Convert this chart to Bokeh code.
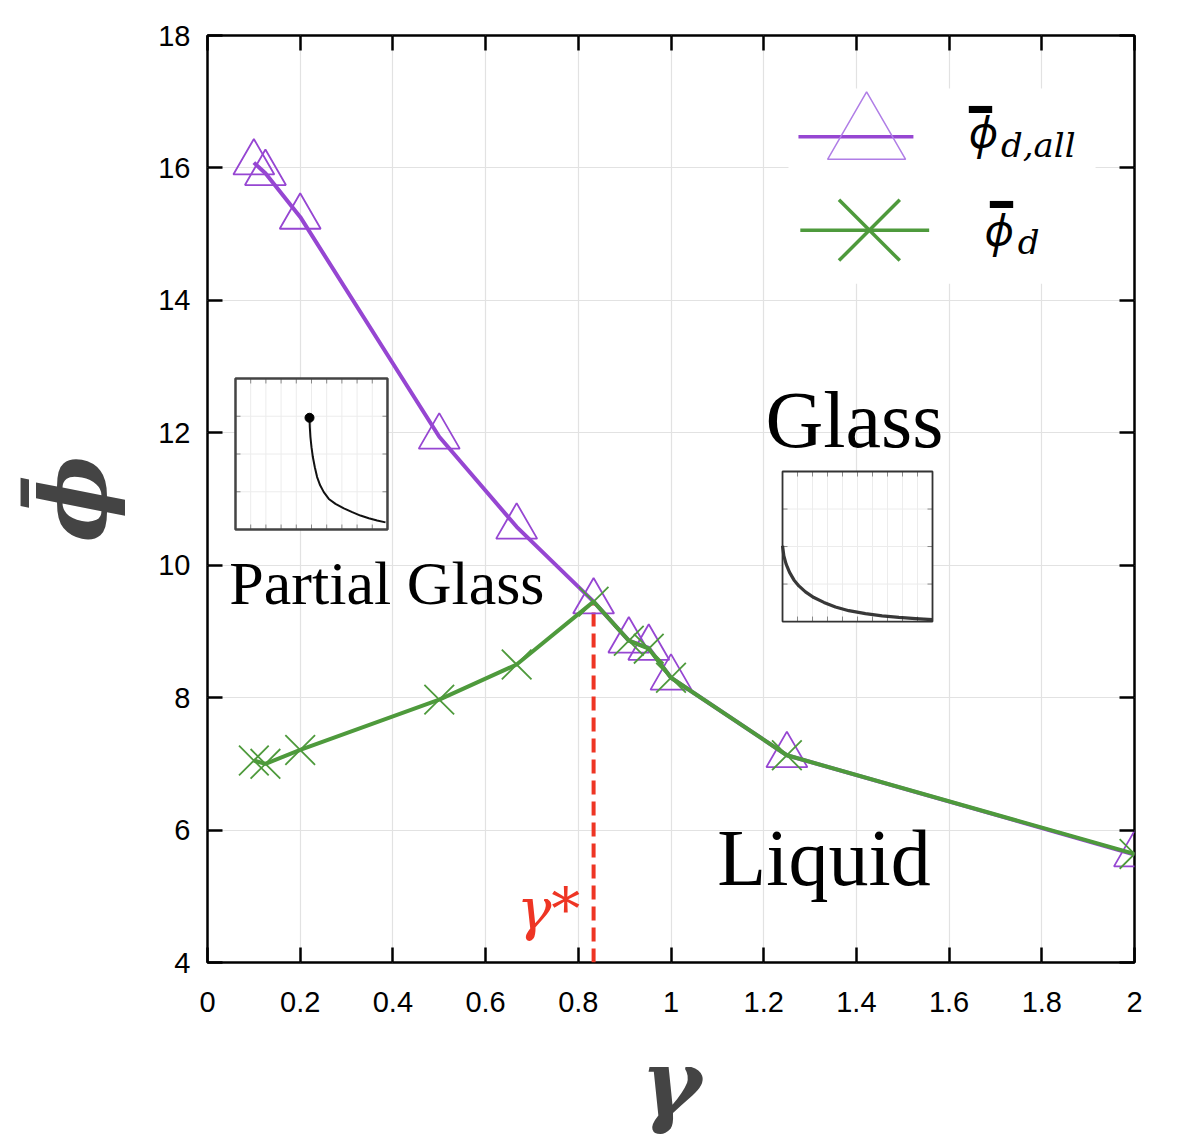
import numpy as np
from bokeh.plotting import figure
from bokeh.models import (Range1d, FixedTicker, LinearAxis, BoxAnnotation, Label,
                          CustomJSTickFormatter)
from bokeh.embed import file_html
from bokeh.resources import INLINE

# ---------------- data ----------------
GAMMA = [0.1, 0.125, 0.2, 0.5, 0.667, 0.833, 0.909, 0.952, 1.0, 1.25, 2.0]
PHI_D_ALL = [16.08, 15.92, 15.26, 11.94, 10.58, 9.45, 8.86, 8.75, 8.30, 7.13, 5.63]
PHI_D = [7.05, 7.00, 7.21, 7.97, 8.50, 9.45, 8.86, 8.74, 8.30, 7.13, 5.64]
GAMMA_STAR = 0.833
PEAK_INDEX = 5

X_TICKS = [0, 0.2, 0.4, 0.6, 0.8, 1.0, 1.2, 1.4, 1.6, 1.8, 2.0]
X_TICK_LABELS = ["0", "0.2", "0.4", "0.6", "0.8", "1", "1.2", "1.4", "1.6", "1.8", "2"]
Y_TICKS = [4, 6, 8, 10, 12, 14, 16, 18]
Y_TICK_LABELS = ["4", "6", "8", "10", "12", "14", "16", "18"]

# inset curves, in the insets' own axes (x 0..10, y 0..4)
INSET1_U = [4.87, 4.89, 4.93, 5.00, 5.09, 5.22, 5.37, 5.57, 5.81, 6.14, 6.58, 7.13, 7.68, 8.22, 8.77, 9.32, 9.87]
INSET1_V = [2.96, 2.71, 2.45, 2.18, 1.92, 1.65, 1.39, 1.17, 0.99, 0.81, 0.68, 0.56, 0.46, 0.37, 0.30, 0.24, 0.19]
INSET2_U = [0.0, 0.09, 0.24, 0.47, 0.76, 1.09, 1.53, 2.09, 2.76, 3.53, 4.42, 5.53, 6.64, 7.76, 8.87, 9.98]
INSET2_V = [2.02, 1.75, 1.53, 1.31, 1.11, 0.95, 0.79, 0.64, 0.51, 0.39, 0.29, 0.21, 0.15, 0.11, 0.08, 0.05]
INSET_GRID_U = [1, 2, 3, 4, 5, 6, 7, 8, 9]
INSET_GRID_V = [1, 2, 3]

# ---------------- layout / style constants ----------------
PURPLE = "#9646d2"
GREEN = "#4e9a3c"
RED = "#ee3524"

INSET1 = dict(left=0.0604, right=0.3883, bottom=10.539, top=12.82)
INSET2 = dict(left=1.2406, right=1.5642, bottom=9.149, top=11.415)
LEGEND_BOX = dict(left=1.2535, right=1.916, bottom=14.25, top=17.20)
LEG_LINE_X = [(1.275, 1.523), (1.279, 1.557)]
LEG_ROW_Y = [16.47, 15.06]
LEG_MARK_X = [1.422, 1.428]

PHI = "\u03d5"
BAR = "\u00af"

p = figure(width=1168, height=1144, x_range=Range1d(0, 2), y_range=Range1d(4, 18),
           output_backend="svg", toolbar_location=None,
           min_border_left=207, min_border_right=34, min_border_top=35, min_border_bottom=182)
p.background_fill_color = "white"
p.border_fill_color = "white"
p.outline_line_color = "black"
p.outline_line_width = 2.5

p.xaxis.ticker = FixedTicker(ticks=X_TICKS)
p.xaxis.major_label_overrides = {t: l for t, l in zip(X_TICKS, X_TICK_LABELS)}
p.yaxis.ticker = FixedTicker(ticks=Y_TICKS)
p.yaxis.major_label_overrides = {t: l for t, l in zip(Y_TICKS, Y_TICK_LABELS)}

for ax in [p.xaxis[0], p.yaxis[0]]:
    ax.axis_line_color = None
    ax.major_tick_in = 15
    ax.major_tick_out = 0
    ax.major_tick_line_width = 2.5
    ax.minor_tick_line_color = None
    ax.major_label_text_font = "Liberation Sans"
    ax.major_label_text_font_size = "29px"
    ax.major_label_text_color = "black"

p.xaxis.major_label_standoff = 29
p.yaxis.major_label_standoff = 17

p.xaxis.axis_label = "γ"
p.xaxis.axis_label_text_font = "DejaVu Serif"
p.xaxis.axis_label_text_font_style = "bold italic"
p.xaxis.axis_label_text_font_size = "92px"
p.xaxis.axis_label_standoff = 14

# phi with its bar: the bar sits on a tightly spaced first line
p.yaxis.axis_label = BAR + "\n" + PHI
p.yaxis.axis_label_text_font = "DejaVu Serif"
p.yaxis.axis_label_text_font_style = "bold italic"
p.yaxis.axis_label_text_font_size = "92px"
p.yaxis.axis_label_text_line_height = 0.15
p.yaxis.axis_label_standoff = 27

blank = CustomJSTickFormatter(code="return ''")
top_ax = LinearAxis(ticker=FixedTicker(ticks=X_TICKS), formatter=blank, axis_line_color=None,
                    major_tick_in=15, major_tick_out=0, major_tick_line_width=2.5,
                    minor_tick_line_color=None, major_label_standoff=0)
right_ax = LinearAxis(ticker=FixedTicker(ticks=Y_TICKS), formatter=blank, axis_line_color=None,
                      major_tick_in=15, major_tick_out=0, major_tick_line_width=2.5,
                      minor_tick_line_color=None, major_label_standoff=0)
p.add_layout(top_ax, "above")
p.add_layout(right_ax, "right")

p.xgrid.ticker = FixedTicker(ticks=X_TICKS)
p.ygrid.ticker = FixedTicker(ticks=Y_TICKS)
p.grid.grid_line_color = "#e2e2e2"
p.grid.grid_line_width = 1.2

# ---------------- white panels (legend + insets) ----------------
for box in (LEGEND_BOX, INSET1, INSET2):
    p.add_layout(BoxAnnotation(**box, fill_color="white", fill_alpha=1.0,
                               line_color=None, level="underlay"))


def inset_map(box, u, v):
    u = np.asarray(u, dtype=float)
    v = np.asarray(v, dtype=float)
    x = box["left"] + u / 10.0 * (box["right"] - box["left"])
    y = box["bottom"] + v / 4.0 * (box["top"] - box["bottom"])
    return x, y


for box, border_w, border_c in ((INSET1, 2.5, "#444444"), (INSET2, 1.8, "#333333")):
    gx, _ = inset_map(box, INSET_GRID_U, [0] * len(INSET_GRID_U))
    p.segment(x0=gx, y0=box["bottom"], x1=gx, y1=box["top"], line_color="#ececec", line_width=1)
    _, gy = inset_map(box, [0] * len(INSET_GRID_V), INSET_GRID_V)
    p.segment(x0=box["left"], y0=gy, x1=box["right"], y1=gy, line_color="#ececec", line_width=1)
    tick_dy = 5 / 66.2
    tick_dx = 5 / 463.5
    p.segment(x0=gx, y0=box["top"], x1=gx, y1=box["top"] - tick_dy, line_color="#888888", line_width=1)
    p.segment(x0=gx, y0=box["bottom"], x1=gx, y1=box["bottom"] + tick_dy, line_color="#888888", line_width=1)
    p.segment(x0=box["left"], y0=gy, x1=box["left"] + tick_dx, y1=gy, line_color="#888888", line_width=1)
    p.segment(x0=box["right"], y0=gy, x1=box["right"] - tick_dx, y1=gy, line_color="#888888", line_width=1)
    p.add_layout(BoxAnnotation(**box, fill_color=None, fill_alpha=0, line_color=border_c,
                               line_alpha=1.0, line_width=border_w, level="annotation"))

ix1, iy1 = inset_map(INSET1, INSET1_U, INSET1_V)
p.line(ix1, iy1, line_color="#111111", line_width=2)
p.scatter(ix1[:1], iy1[:1], marker="circle", size=9, fill_color="black", line_color="black")
ix2, iy2 = inset_map(INSET2, INSET2_U, INSET2_V)
p.line(ix2, iy2, line_color="#222222", line_width=3.2, line_alpha=0.9)

# ---------------- gamma* line ----------------
p.segment(x0=[GAMMA_STAR], y0=[4], x1=[GAMMA_STAR], y1=[PHI_D[PEAK_INDEX]],
          line_color=RED, line_width=4, line_dash="14 7")

# ---------------- data series ----------------
p.line(GAMMA, PHI_D_ALL, line_color=PURPLE, line_width=4)
p.scatter(GAMMA, PHI_D_ALL, marker="triangle", size=41, fill_color=None,
          line_color=PURPLE, line_width=1.8)
p.line(GAMMA, PHI_D, line_color=GREEN, line_width=4)
p.scatter(GAMMA, PHI_D, marker="x", size=42, line_color=GREEN, line_width=1.8)

# ---------------- legend (drawn manually, large keys) ----------------
p.line(list(LEG_LINE_X[0]), [LEG_ROW_Y[0]] * 2, line_color=PURPLE, line_width=3.5)
p.scatter([LEG_MARK_X[0]], [LEG_ROW_Y[0]], marker="triangle", size=78, fill_color=None,
          line_color="#b07ee6", line_width=1.5)
p.line(list(LEG_LINE_X[1]), [LEG_ROW_Y[1]] * 2, line_color=GREEN, line_width=3.5)
p.scatter([LEG_MARK_X[1]], [LEG_ROW_Y[1]], marker="x", size=86, line_color=GREEN, line_width=3.5)


def text_label(x, y, text, size, font="DejaVu Serif", style="italic", color="black", align="left"):
    p.add_layout(Label(x=x, y=y, text=text, text_font=font, text_font_style=style,
                       text_font_size=size, text_color=color, text_align=align,
                       text_baseline="alphabetic"))


text_label(1.642, 16.555, PHI, "44px", font="Noto Sans")
text_label(1.668, 16.456, BAR, "76px", style="bold", align="center")
text_label(1.712, 16.345, "d,all", "34px")
text_label(1.676, 15.075, PHI, "44px", font="Noto Sans")
text_label(1.713, 15.021, BAR, "76px", style="bold", align="center")
text_label(1.748, 14.885, "d", "34px")

# ---------------- region labels ----------------
text_label(1.204, 12.20, "Glass", "80px", font="Liberation Serif", style="normal")
text_label(1.100, 5.571, "Liquid", "80px", font="Liberation Serif", style="normal")
text_label(0.047, 9.734, "Partial Glass", "62px", font="Liberation Serif", style="normal")
text_label(0.667, 4.808, "γ*", "58px", color=RED)

open("out.html", "w").write(file_html(p, INLINE))
